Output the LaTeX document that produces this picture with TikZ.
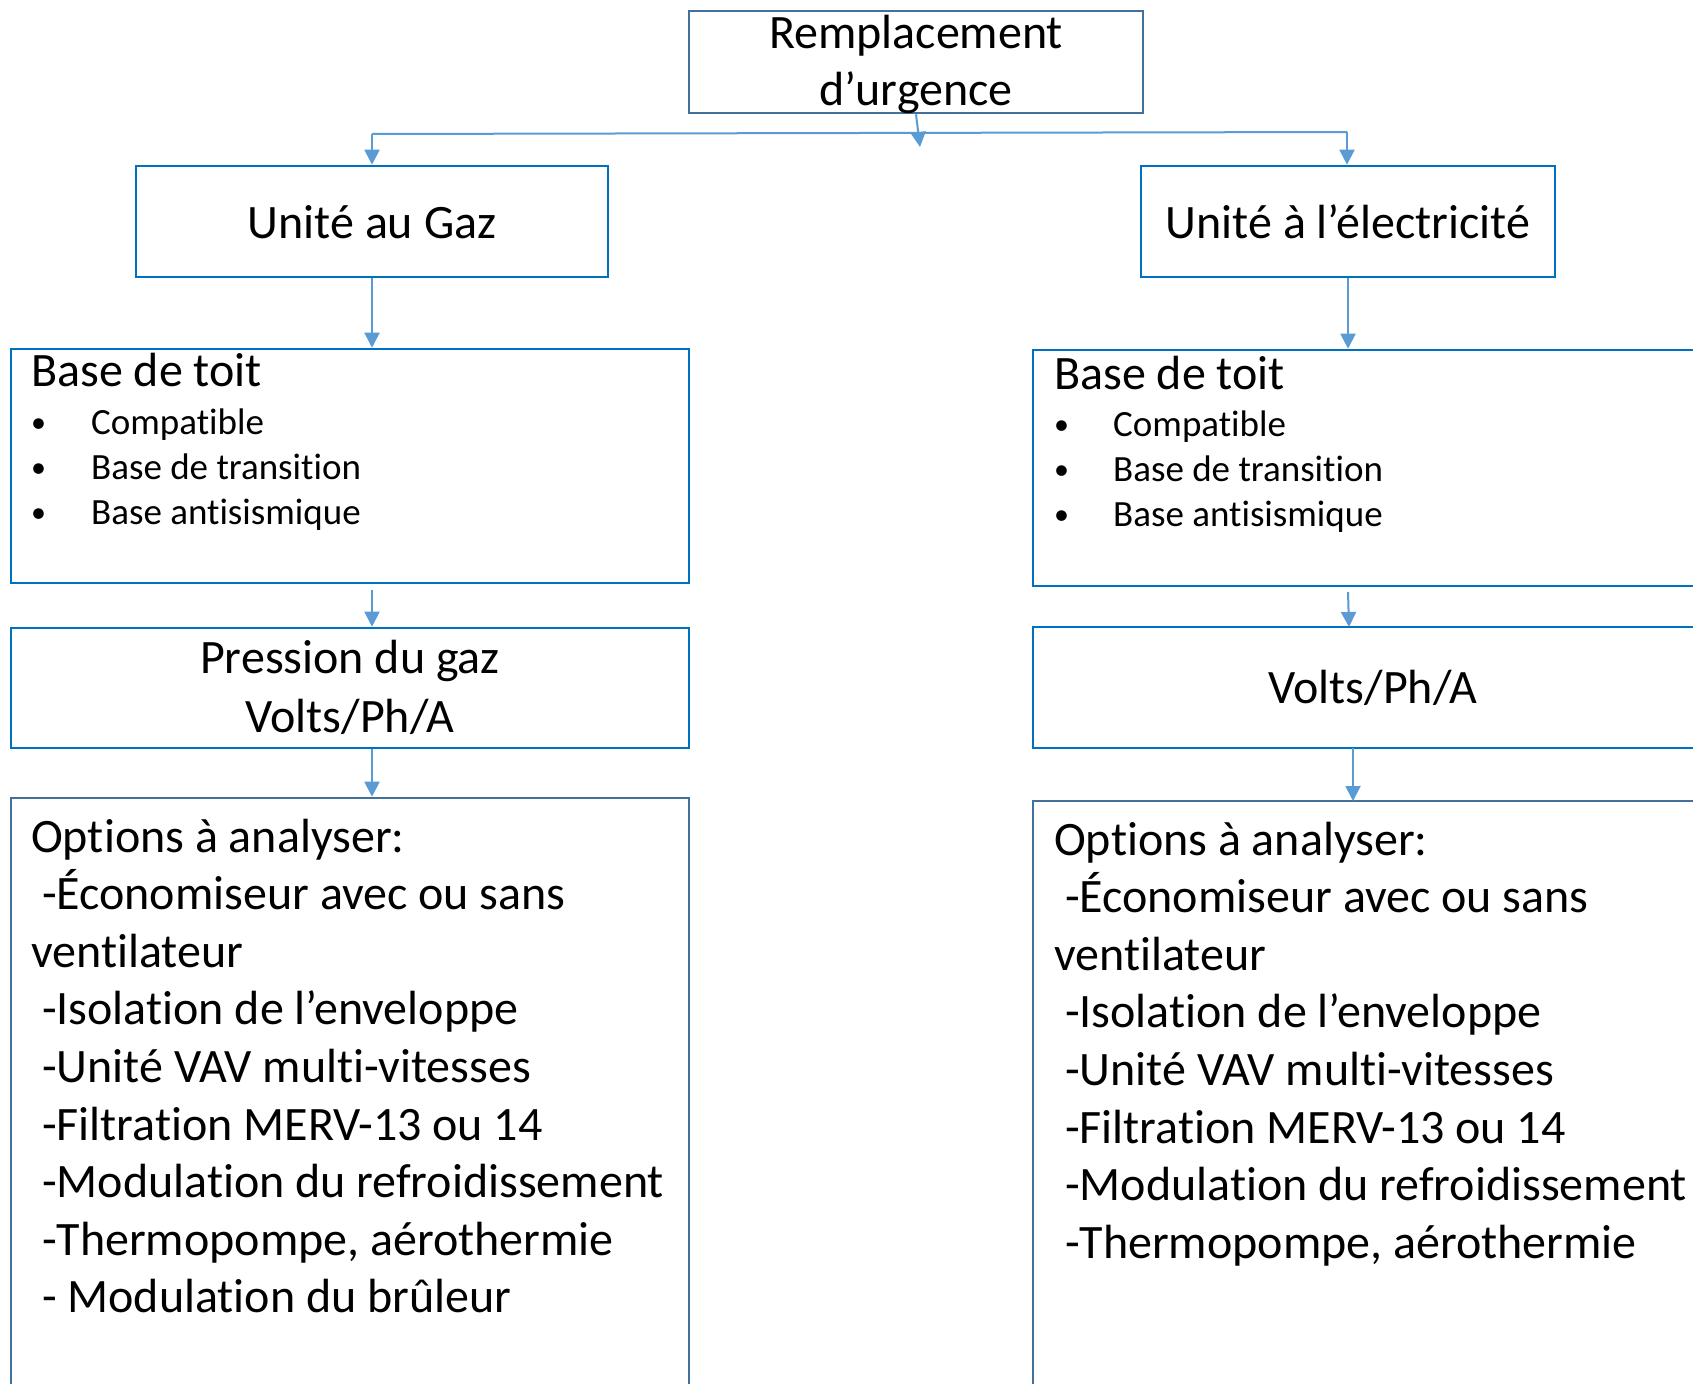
\documentclass[tikz,border=0pt]{standalone}
\usepackage{fontspec}
\setmainfont[Ligatures=NoCommon]{Carlito}
\usetikzlibrary{arrows.meta}
\definecolor{boxblue}{HTML}{0070C0}
\definecolor{darkbox}{HTML}{41719C}
\definecolor{arrblue}{HTML}{5B9BD5}
\begin{document}
\begin{tikzpicture}[x=1pt,y=-1pt,
  box/.style={draw=boxblue,line width=2.6pt,rectangle,inner sep=0pt},
  dbox/.style={draw=darkbox,line width=2.6pt,rectangle,inner sep=0pt},
  arr/.style={draw=arrblue,line width=2pt,-{Triangle[width=15pt,length=15pt]}},
  ln/.style={draw=arrblue,line width=2pt},
  big/.style={inner sep=0pt,font=\fontsize{48}{57.6}\selectfont},
  small/.style={inner sep=0pt,font=\fontsize{37}{44}\selectfont,anchor=base west},
  dot/.style={inner sep=0pt,font=\fontsize{30}{36}\selectfont,anchor=base west},
  bl/.style={big,anchor=base west},
  bc/.style={big,anchor=base}]
\useasboundingbox (0,0) rectangle (1693,1383);
\clip (0,0) rectangle (1693,1383);
\fill[white] (0,0) rectangle (1693,1383);

% boxes
\node[dbox,minimum width=454pt,minimum height=102pt] (top) at (916,62) {};
\node[box,minimum width=472pt,minimum height=111pt] (gaz) at (372,221.5) {};
\node[box,minimum width=414pt,minimum height=111pt] (elec) at (1348,221.5) {};
\node[box,minimum width=678pt,minimum height=234pt] (base1) at (350,466) {};
\node[box,minimum width=687pt,minimum height=236pt] (base2) at (1376.5,468) {};
\node[box,minimum width=678pt,minimum height=120pt] (pres) at (350,688) {};
\node[box,minimum width=687pt,minimum height=121pt] (volts) at (1376.5,687.5) {};
\node[dbox,minimum width=678pt,minimum height=620pt] (opt1) at (350,1108) {};
\node[dbox,minimum width=687pt,minimum height=620pt] (opt2) at (1376.5,1111) {};

% connectors
\coordinate (jl) at (372,134);
\coordinate (jr) at (1347,132);
\coordinate (jm) at (920,147);
\draw[ln] (jl) -- (jr);
\draw[arr] (top.south) -- (jm);
\draw[arr] (jl) -- (gaz.north);
\draw[arr] (jr) -- (jr |- elec.north);
\draw[arr] (gaz.south) -- (gaz.south |- base1.north);
\draw[arr] (elec.south) -- (elec.south |- base2.north);
\draw[arr] ([yshift=-6pt]gaz.south |- base1.south) -- (gaz.south |- pres.north);
\draw[arr] ([yshift=-6pt]1348,586) -- (1349,627);
\draw[arr] (gaz.south |- pres.south) -- (gaz.south |- opt1.north);
\draw[arr] (1353,748) -- (1353,801);

% texts
\node[bc] (t1) at (916,49) {Remplacement};
\node[bc] (t2) at (916,106) {d’urgence};
\node[bc] (tg) at (372,238) {Unité au Gaz};
\node[bc] (te) at (1348,238) {Unité à l’électricité};

\node[bl] (b1h) at (31,386) {Base de toit};
\node[dot] (b1a) at (31,432) {•};
\node[dot] (b1b) at (31,477) {•};
\node[dot] (b1c) at (31,522) {•};
\node[small] (b1d) at (91,434) {Compatible};
\node[small] (b1e) at (91,479) {Base de transition};
\node[small] (b1f) at (91,524) {Base antisismique};

\node[bl] (b2h) at (1054,389) {Base de toit};
\node[dot] (b2a) at (1054,434) {•};
\node[dot] (b2b) at (1054,479) {•};
\node[dot] (b2c) at (1054,524) {•};
\node[small] (b2d) at (1113,436) {Compatible};
\node[small] (b2e) at (1113,481) {Base de transition};
\node[small] (b2f) at (1113,526) {Base antisismique};

\node[bc] (p1) at (350,673) {Pression du gaz};
\node[bc] (p2) at (350,732) {Volts/Ph/A};
\node[bc] (v1) at (1373,703) {Volts/Ph/A};

\node[bl] (o1) at (31,852) {Options à analyser:};
\node[bl] (o2) at (31,909.6) {\ -Économiseur avec ou sans};
\node[bl] (o3) at (31,967.2) {ventilateur};
\node[bl] (o4) at (31,1024.8) {\ -Isolation de l’enveloppe};
\node[bl] (o5) at (31,1082.4) {\ -Unité VAV multi-vitesses};
\node[bl] (o6) at (31,1140) {\ -Filtration MERV-13 ou 14};
\node[bl] (o7) at (31,1197.6) {\ -Modulation du refroidissement};
\node[bl] (o8) at (31,1255.2) {\ -Thermopompe, aérothermie};
\node[bl] (o9) at (31,1312.8) {\ - Modulation du brûleur};

\node[bl] (r1) at (1054,855) {Options à analyser:};
\node[bl] (r2) at (1054,912.6) {\ -Économiseur avec ou sans};
\node[bl] (r3) at (1054,970.2) {ventilateur};
\node[bl] (r4) at (1054,1027.8) {\ -Isolation de l’enveloppe};
\node[bl] (r5) at (1054,1085.4) {\ -Unité VAV multi-vitesses};
\node[bl] (r6) at (1054,1143) {\ -Filtration MERV-13 ou 14};
\node[bl] (r7) at (1054,1200.6) {\ -Modulation du refroidissement};
\node[bl] (r8) at (1054,1258.2) {\ -Thermopompe, aérothermie};
\end{tikzpicture}
\end{document}
